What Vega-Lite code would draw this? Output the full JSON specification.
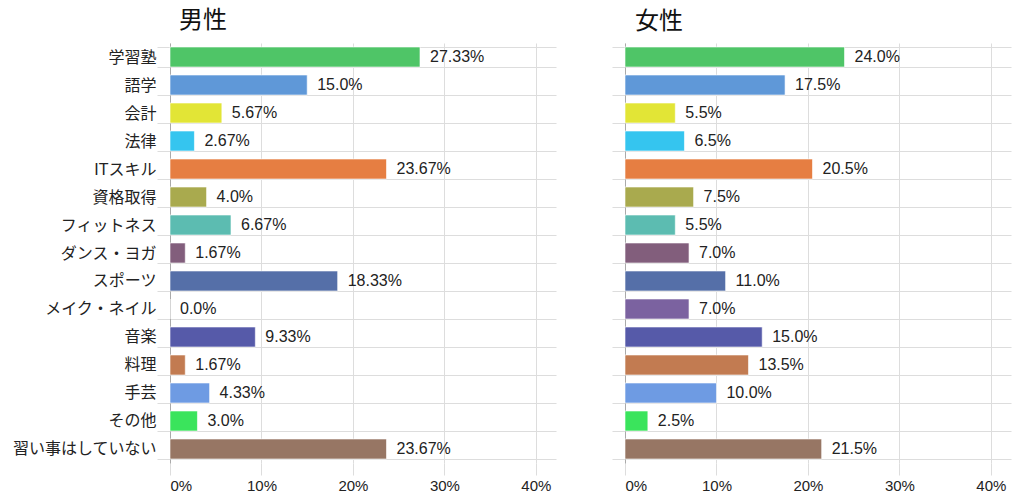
{
  "$schema": "https://vega.github.io/schema/vega-lite/v6.json",
  "background": "white",
  "padding": {"left": 11, "top": 9, "right": 5, "bottom": 5},
  "config": {
    "font": "Liberation Sans, Noto Sans CJK JP",
    "view": {"stroke": null},
    "concat": {"spacing": 55}
  },
  "data": {
    "values": [
      {"gender": "男性", "item": "学習塾", "value": 27.33},
      {"gender": "男性", "item": "語学", "value": 15.0},
      {"gender": "男性", "item": "会計", "value": 5.67},
      {"gender": "男性", "item": "法律", "value": 2.67},
      {"gender": "男性", "item": "ITスキル", "value": 23.67},
      {"gender": "男性", "item": "資格取得", "value": 4.0},
      {"gender": "男性", "item": "フィットネス", "value": 6.67},
      {"gender": "男性", "item": "ダンス・ヨガ", "value": 1.67},
      {"gender": "男性", "item": "スポーツ", "value": 18.33},
      {"gender": "男性", "item": "メイク・ネイル", "value": 0.0},
      {"gender": "男性", "item": "音楽", "value": 9.33},
      {"gender": "男性", "item": "料理", "value": 1.67},
      {"gender": "男性", "item": "手芸", "value": 4.33},
      {"gender": "男性", "item": "その他", "value": 3.0},
      {"gender": "男性", "item": "習い事はしていない", "value": 23.67},
      {"gender": "女性", "item": "学習塾", "value": 24.0},
      {"gender": "女性", "item": "語学", "value": 17.5},
      {"gender": "女性", "item": "会計", "value": 5.5},
      {"gender": "女性", "item": "法律", "value": 6.5},
      {"gender": "女性", "item": "ITスキル", "value": 20.5},
      {"gender": "女性", "item": "資格取得", "value": 7.5},
      {"gender": "女性", "item": "フィットネス", "value": 5.5},
      {"gender": "女性", "item": "ダンス・ヨガ", "value": 7.0},
      {"gender": "女性", "item": "スポーツ", "value": 11.0},
      {"gender": "女性", "item": "メイク・ネイル", "value": 7.0},
      {"gender": "女性", "item": "音楽", "value": 15.0},
      {"gender": "女性", "item": "料理", "value": 13.5},
      {"gender": "女性", "item": "手芸", "value": 10.0},
      {"gender": "女性", "item": "その他", "value": 2.5},
      {"gender": "女性", "item": "習い事はしていない", "value": 21.5}
    ]
  },
  "transform": [
    {"calculate": "(datum.value % 1 === 0 ? format(datum.value, '.1f') : format(datum.value, '.2~f')) + '%'", "as": "label"}
  ],
  "hconcat": [
    {
      "title": {"text": "男性", "anchor": "start", "frame": "group", "fontSize": 24, "fontWeight": "normal", "dx": 9, "dy": 8, "offset": 10, "color": "#111111"},
      "width": 386,
      "height": 420,
      "transform": [{"filter": "datum.gender === '男性'"}],
      "encoding": {
        "y": {
          "field": "item",
          "type": "nominal",
          "sort": null,
          "scale": {"paddingInner": 0.2857, "paddingOuter": 0.1429},
          "axis": {
            "title": null,
            "tickBand": "extent",
            "grid": true,
            "gridColor": "#dddddd",
            "tickColor": "#dddddd",
            "tickSize": 13,
            "domainColor": "#aaaaaa",
            "labelFontSize": 16,
            "labelColor": "#222222",
            "labelPadding": 1
          }
        },
        "x": {
          "field": "value",
          "type": "quantitative",
          "scale": {"domain": [0, 42.2], "nice": false},
          "axis": {
            "title": null,
            "values": [0, 10, 20, 30, 40],
            "labelExpr": "datum.value + '%'",
            "grid": true,
            "gridColor": "#dddddd",
            "domain": false,
            "tickColor": "#dddddd",
            "tickSize": 12,
            "labelFontSize": 15,
            "labelColor": "#222222",
            "labelPadding": 3
          }
        }
      },
      "layer": [
        {
          "mark": {"type": "bar", "stroke": "white", "strokeWidth": 1, "strokeOpacity": 0.6},
          "encoding": {
            "color": {
              "field": "item",
              "type": "nominal",
              "legend": null,
              "scale": {
                "domain": ["学習塾", "語学", "会計", "法律", "ITスキル", "資格取得", "フィットネス", "ダンス・ヨガ", "スポーツ", "メイク・ネイル", "音楽", "料理", "手芸", "その他", "習い事はしていない"],
                "range": ["#4fc567", "#5f98d8", "#e2e536", "#35c5ef", "#e67e42", "#a9aa4e", "#5cbcb1", "#825e7c", "#556fa8", "#7b62a0", "#565aa9", "#c27b51", "#6e9be3", "#3ae45c", "#977664"]
              }
            }
          }
        },
        {
          "mark": {"type": "text", "align": "left", "baseline": "middle", "dx": 10, "fontSize": 16, "color": "#222222"},
          "encoding": {"text": {"field": "label"}}
        }
      ]
    },
    {
      "title": {"text": "女性", "anchor": "start", "frame": "group", "fontSize": 24, "fontWeight": "normal", "dx": 10, "dy": 1, "offset": 10, "color": "#111111"},
      "width": 386,
      "height": 420,
      "transform": [{"filter": "datum.gender === '女性'"}],
      "encoding": {
        "y": {
          "field": "item",
          "type": "nominal",
          "sort": null,
          "scale": {"paddingInner": 0.2857, "paddingOuter": 0.1429},
          "axis": {
            "title": null,
            "labels": false,
            "tickBand": "extent",
            "grid": true,
            "gridColor": "#dddddd",
            "tickColor": "#dddddd",
            "tickSize": 13,
            "domainColor": "#aaaaaa"
          }
        },
        "x": {
          "field": "value",
          "type": "quantitative",
          "scale": {"domain": [0, 42.2], "nice": false},
          "axis": {
            "title": null,
            "values": [0, 10, 20, 30, 40],
            "labelExpr": "datum.value + '%'",
            "grid": true,
            "gridColor": "#dddddd",
            "domain": false,
            "tickColor": "#dddddd",
            "tickSize": 12,
            "labelFontSize": 15,
            "labelColor": "#222222",
            "labelPadding": 3
          }
        }
      },
      "layer": [
        {
          "mark": {"type": "bar", "stroke": "white", "strokeWidth": 1, "strokeOpacity": 0.6},
          "encoding": {
            "color": {
              "field": "item",
              "type": "nominal",
              "legend": null,
              "scale": {
                "domain": ["学習塾", "語学", "会計", "法律", "ITスキル", "資格取得", "フィットネス", "ダンス・ヨガ", "スポーツ", "メイク・ネイル", "音楽", "料理", "手芸", "その他", "習い事はしていない"],
                "range": ["#4fc567", "#5f98d8", "#e2e536", "#35c5ef", "#e67e42", "#a9aa4e", "#5cbcb1", "#825e7c", "#556fa8", "#7b62a0", "#565aa9", "#c27b51", "#6e9be3", "#3ae45c", "#977664"]
              }
            }
          }
        },
        {
          "mark": {"type": "text", "align": "left", "baseline": "middle", "dx": 10, "fontSize": 16, "color": "#222222"},
          "encoding": {"text": {"field": "label"}}
        }
      ]
    }
  ]
}
